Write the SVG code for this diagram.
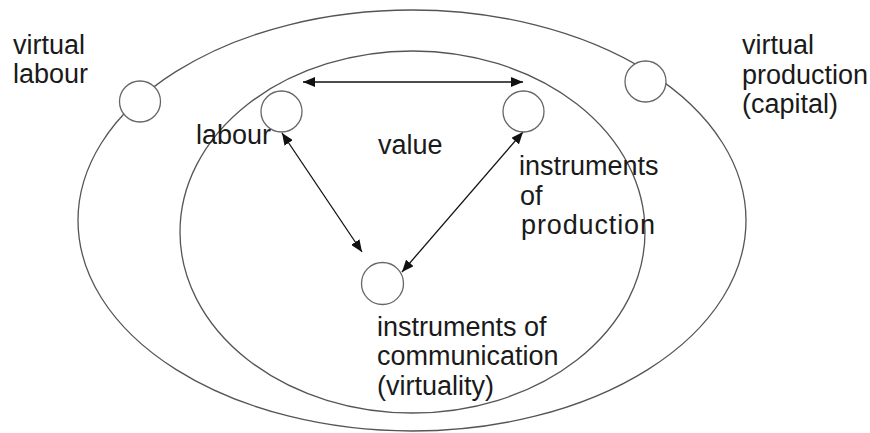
<svg xmlns="http://www.w3.org/2000/svg" width="870" height="433" viewBox="0 0 870 433">
<style>
.ring{fill:none;stroke:#555;stroke-width:1.3}
.node{fill:#fff;stroke:#666;stroke-width:1.3}
.lbl{font-family:"Liberation Sans",Arial,sans-serif;font-size:27px;fill:#1a1a1a}
.arr{stroke:#111;stroke-width:1.3;fill:none;marker-end:url(#ah);marker-start:url(#ah)}
</style>
<defs>
<marker id="ah" viewBox="0 0 12 10" refX="12" refY="5" markerWidth="12" markerHeight="10" markerUnits="userSpaceOnUse" orient="auto-start-reverse">
<path d="M0,0 L12,5 L0,10 z" fill="#111"/>
</marker>
</defs>
<g id="outer-ellipse"><ellipse class="ring" cx="412" cy="220.5" rx="334" ry="210.5"/></g>
<g id="inner-ellipse"><ellipse class="ring" cx="412.5" cy="232" rx="232.5" ry="181"/></g>
<g id="connectors">
<path class="arr" d="M303,82 L523,82"/>
<path class="arr" d="M282,133 L362,252"/>
<path class="arr" d="M523,132 L402,272"/>
</g>
<g id="virtual-labour">
<circle class="node" cx="140" cy="101.5" r="20.5"/>
<text class="lbl" x="13" y="54">virtual</text>
<text class="lbl" x="13" y="83">labour</text>
</g>
<g id="labour">
<circle class="node" cx="281.5" cy="111.5" r="20.5"/>
<text class="lbl" x="196" y="144">labour</text>
</g>
<g id="value">
<text class="lbl" x="378" y="154">value</text>
</g>
<g id="instruments-of-production">
<circle class="node" cx="523.5" cy="111.5" r="20.5"/>
<text class="lbl" x="519" y="175">instruments</text>
<text class="lbl" x="520" y="205">of</text>
<text class="lbl" x="521" y="234" textLength="134" lengthAdjust="spacing">production</text>
</g>
<g id="virtual-production">
<circle class="node" cx="645.5" cy="81.5" r="20.5"/>
<text class="lbl" x="742" y="54">virtual</text>
<text class="lbl" x="742" y="84">production</text>
<text class="lbl" x="742" y="113">(capital)</text>
</g>
<g id="instruments-of-communication">
<circle class="node" cx="382.5" cy="283.5" r="21"/>
<text class="lbl" x="377" y="336">instruments of</text>
<text class="lbl" x="377" y="365">communication</text>
<text class="lbl" x="377" y="395">(virtuality)</text>
</g>
</svg>
